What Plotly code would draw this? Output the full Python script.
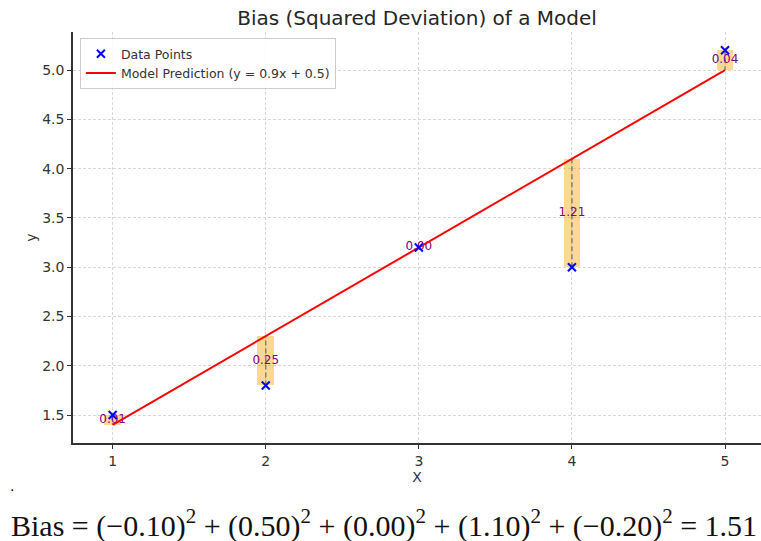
import plotly.graph_objects as go

# Observations and the linear model y = 0.9x + 0.5
x_vals = [1, 2, 3, 4, 5]
y_data = [1.5, 1.8, 3.2, 3.0, 5.2]
slope = 0.9
intercept = 0.5

y_model = [slope * x + intercept for x in x_vals]
deviation = [m - d for m, d in zip(y_model, y_data)]
sq_dev = [d ** 2 for d in deviation]
bias_total = sum(sq_dev)

FONT = "DejaVu Sans"
bar_width = 0.11

fig = go.Figure()

# shaded span between each observation and its prediction
fig.add_trace(go.Bar(
    x=x_vals, y=deviation, base=y_data, width=bar_width,
    marker=dict(color="rgba(255,165,0,0.42)", line=dict(width=0)),
    showlegend=False, hoverinfo="skip",
))

# dashed connector from observation to prediction
seg_x, seg_y = [], []
for x, d, m in zip(x_vals, y_data, y_model):
    seg_x += [x, x, None]
    seg_y += [d, m, None]
fig.add_trace(go.Scatter(
    x=seg_x, y=seg_y, mode="lines",
    line=dict(color="#808080", width=1.5, dash="5px,3px"),
    showlegend=False, hoverinfo="skip",
))

# squared deviation labels at the midpoint of each span
fig.add_trace(go.Scatter(
    x=x_vals, y=[(d + m) / 2 for d, m in zip(y_data, y_model)],
    mode="text", text=[f"{s:.2f}" for s in sq_dev],
    textfont=dict(family=FONT, size=12, color="#800080"),
    showlegend=False, hoverinfo="skip",
))

fig.add_trace(go.Scatter(
    x=x_vals, y=y_model, mode="lines",
    line=dict(color="#ff0000", width=2),
    name="Model Prediction (y = 0.9x + 0.5)", legendrank=2,
))

fig.add_trace(go.Scatter(
    x=x_vals, y=y_data, mode="markers",
    marker=dict(symbol="x-thin", size=8, color="#0000ff",
                line=dict(color="#0000ff", width=2)),
    name="Data Points", legendrank=1,
))

axis_common = dict(
    showline=True, linecolor="#333333", linewidth=1.5,
    ticks="outside", ticklen=4, tickcolor="#333333",
    tickfont=dict(family=FONT, size=14, color="#333333"),
    showgrid=True, gridcolor="#d8d8d8", gridwidth=1, griddash="3px,2px",
    zeroline=False, mirror=False,
)

fig.update_xaxes(range=[0.741, 5.235], dtick=1, tick0=1,
                 title=dict(text="X", font=dict(family=FONT, size=14, color="#333333"), standoff=2),
                 **axis_common)
fig.update_yaxes(range=[1.216, 5.386], dtick=0.5, tick0=1.5, tickformat=".1f",
                 title=dict(text="y", font=dict(family=FONT, size=14, color="#333333"), standoff=2),
                 **axis_common)

terms = " + ".join(f"({d:.2f})<sup>2</sup>".replace("-", "\u2212") for d in deviation)
formula = f"Bias = {terms} = {bias_total:.2f}"

fig.update_layout(
    width=761, height=541,
    margin=dict(l=73, r=0, t=32, b=98),
    paper_bgcolor="white", plot_bgcolor="white",
    title=dict(text="Bias (Squared Deviation) of a Model", x=0.548, xanchor="center",
               y=0.967, yanchor="middle",
               font=dict(family=FONT, size=20, color="#262626")),
    legend=dict(x=0.01, y=0.985, xanchor="left", yanchor="top",
                bgcolor="rgba(255,255,255,0.85)", bordercolor="#cccccc", borderwidth=1,
                font=dict(family=FONT, size=12.5, color="#333333"),
                itemwidth=30, tracegroupgap=0),
    bargap=0,
    annotations=[
        dict(text=".", xref="paper", yref="paper", x=-0.095, y=-0.105,
             xanchor="left", yanchor="middle", showarrow=False,
             font=dict(family=FONT, size=14, color="#000000")),
        dict(text=formula, xref="paper", yref="paper", x=0.452, y=-0.197,
             xanchor="center", yanchor="middle", showarrow=False,
             font=dict(family="Liberation Serif", size=30, color="#111111")),
    ],
)

fig.write_html("out.html")
